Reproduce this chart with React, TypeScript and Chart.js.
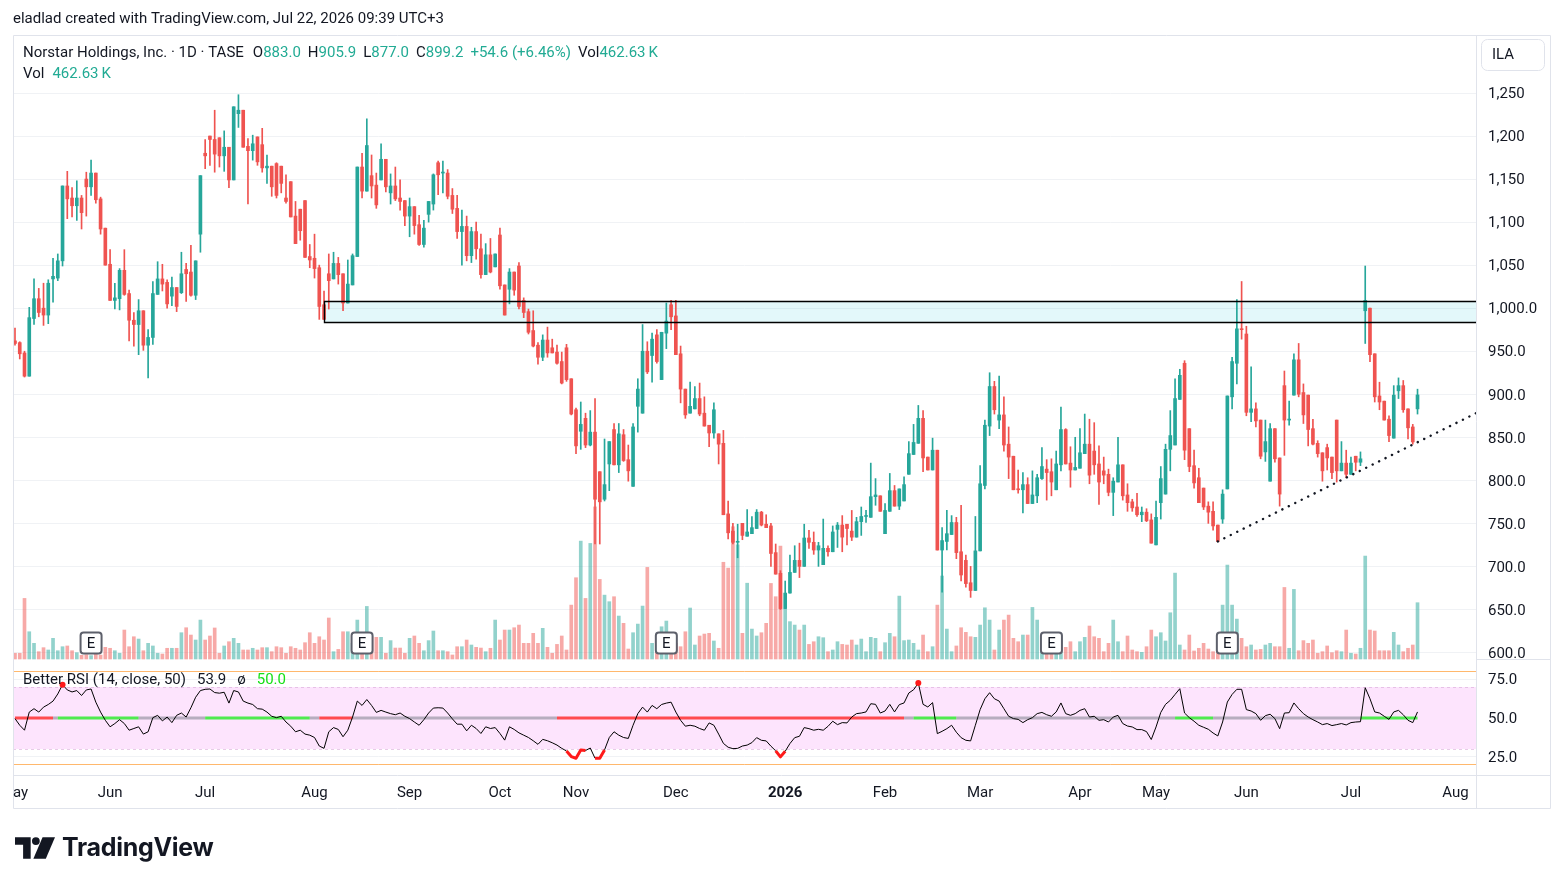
import React, { useEffect, useRef } from 'react';
import { Chart, registerables } from 'chart.js';

Chart.register(...registerables);

const FONT = 'Roboto, "Noto Sans", "DejaVu Sans", sans-serif';
const FS = 15;

// ---------- candle data (daily, TASE) ----------
const opens = [
  962,960,948,921,988,1011,1000,992,1034,1035,
  1055,1142,1128,1119,1128,1150,1141,1157,1127,1093,
  1051,1009,1011,1044,1017,986,981,997,957,966,
  1016,1034,1030,1014,1024,1018,1045,1042,1015,1086,
  1180,1200,1196,1198,1177,1187,1149,1226,1230,1188,
  1183,1199,1190,1163,1165,1168,1165,1128,1147,1107,
  1115,1125,1060,1058,1047,1004,1040,1034,1052,1040,
  1006,1027,1060,1164,1136,1154,1143,1149,1173,1134,
  1142,1128,1125,1107,1118,1097,1074,1109,1121,1169,
  1157,1157,1131,1116,1089,1095,1061,1089,1069,1039,
  1062,1048,1085,1027,1022,1042,1049,1009,996,974,
  957,943,963,954,949,938,954,918,882,857,
  872,841,856,810,778,819,859,818,853,824,
  793,886,878,950,945,969,917,971,1004,991,
  947,906,878,883,895,878,864,855,854,843,
  761,741,728,750,735,738,744,763,749,747,
  716,692,651,669,693,707,700,733,728,719,
  702,721,717,743,748,749,741,734,752,758,
  757,781,782,738,764,788,770,776,807,830,
  843,872,827,812,835,719,729,737,751,717,
  707,681,672,718,794,863,909,870,876,842,
  828,790,789,795,773,782,802,813,810,789,
  818,859,820,812,814,831,842,834,819,811,
  807,786,798,818,783,775,769,760,763,754,
  725,774,784,836,841,894,936,860,817,803,
  791,770,764,748,755,790,897,936,976,970,
  879,883,870,833,799,860,826,910,870,899,
  940,902,899,860,843,832,838,827,870,811,
  820,807,828,821,997,1000,947,898,892,871,
  849,904,910,883,862,883.0,
];
const highs = [
  977,961,950,1001,1034,1023,1029,1033,1058,1063,
  1142,1159,1140,1148,1131,1158,1172,1157,1129,1093,
  1068,1029,1046,1068,1021,995,1010,997,975,1031,
  1054,1051,1033,1036,1024,1065,1052,1073,1055,1154,
  1196,1200,1230,1198,1206,1187,1234,1248,1230,1197,
  1201,1199,1209,1178,1165,1169,1165,1155,1147,1124,
  1115,1125,1074,1086,1050,1020,1063,1065,1059,1040,
  1056,1063,1164,1180,1220,1178,1157,1191,1173,1156,
  1164,1149,1125,1128,1118,1108,1102,1124,1156,1171,
  1171,1161,1139,1131,1114,1107,1094,1100,1086,1075,
  1081,1063,1093,1027,1046,1042,1053,1012,999,997,
  960,969,978,964,957,949,958,918,884,891,
  878,881,895,810,848,845,866,866,859,841,
  866,918,981,961,971,975,972,1006,1009,1009,
  956,906,914,909,913,897,864,890,854,858,
  776,750,749,750,766,758,766,764,760,750,
  726,695,683,713,724,727,749,742,740,728,
  755,724,747,751,759,749,765,757,769,765,
  820,802,782,773,808,794,790,804,845,865,
  887,881,827,849,835,745,765,759,757,771,
  713,700,758,817,870,925,915,921,897,862,
  828,812,809,803,811,807,838,824,825,834,
  885,860,839,850,860,877,871,867,840,827,
  813,803,850,818,796,778,785,769,767,761,
  776,816,842,881,918,929,939,860,835,814,
  791,775,775,748,789,898,943,1010,1031,979,
  932,890,870,870,866,860,826,927,892,947,
  959,912,899,871,846,832,842,827,870,845,
  835,827,828,833,1049,1000,947,914,892,875,
  910,919,916,883,865,905.9,
];
const lows = [
  957,941,920,921,981,990,980,982,1007,1032,
  1049,1104,1106,1102,1092,1107,1131,1122,1086,1050,
  1009,999,998,1015,962,956,946,951,919,958,
  1016,1020,1000,1003,996,1017,1008,1014,1010,1065,
  1162,1166,1158,1164,1159,1140,1149,1210,1187,1121,
  1172,1166,1158,1145,1130,1128,1134,1122,1106,1075,
  1079,1059,1047,1035,987,987,999,1034,1028,997,
  1006,1027,1060,1128,1136,1128,1116,1149,1135,1121,
  1125,1114,1096,1083,1086,1073,1071,1100,1114,1132,
  1134,1127,1110,1081,1050,1055,1053,1057,1035,1039,
  1041,1048,1022,992,1005,1015,999,989,970,955,
  935,939,943,948,935,912,915,876,831,836,
  838,840,726,726,776,788,818,809,822,799,
  793,856,878,924,914,936,917,953,975,946,
  890,872,878,883,875,863,839,849,819,760,
  732,726,710,731,735,738,744,747,745,700,
  691,650,651,669,693,687,700,721,714,700,
  702,712,717,722,717,725,730,734,736,751,
  757,771,764,738,764,770,766,776,807,830,
  843,810,812,812,719,670,719,737,709,683,
  676,664,672,718,790,852,877,860,834,802,
  789,785,762,773,773,774,801,777,782,789,
  811,819,792,812,814,831,796,807,772,796,
  782,759,798,777,764,764,758,752,752,727,
  725,755,784,811,841,894,824,810,791,774,
  766,750,742,729,750,790,883,912,964,875,
  868,862,825,822,799,821,770,829,864,899,
  897,866,840,841,827,799,812,802,798,811,
  803,807,811,817,959,938,891,882,870,845,
  849,895,879,848,842,877.0,
];
const closes = [
  959,947,921,989,1011,995,992,1029,1037,1055,
  1142,1127,1119,1128,1111,1141,1157,1126,1092,1050,
  1009,1012,1044,1016,986,981,997,957,966,1017,
  1034,1028,1005,1024,1002,1040,1040,1015,1055,1154,
  1177,1196,1179,1177,1187,1149,1234,1230,1187,1183,
  1191,1170,1163,1165,1141,1131,1145,1124,1106,1075,
  1090,1059,1056,1046,1002,987,1032,1052,1039,1006,
  1028,1061,1164,1136,1189,1142,1120,1173,1141,1142,
  1127,1124,1107,1118,1096,1074,1093,1124,1155,1155,
  1157,1130,1115,1089,1095,1061,1089,1069,1039,1062,
  1042,1063,1026,992,1042,1021,1002,995,972,956,
  943,963,948,948,936,913,917,877,840,865,
  841,856,778,775,795,845,818,854,823,811,
  862,906,950,926,964,938,972,985,990,946,
  906,876,886,895,877,863,855,882,842,760,
  739,728,729,736,740,745,763,748,745,715,
  691,651,669,693,707,700,733,728,719,724,
  721,717,740,748,734,744,734,752,758,759,
  781,783,764,765,788,770,790,795,831,844,
  872,826,812,835,719,730,738,751,716,690,
  680,672,718,796,864,909,882,876,841,827,
  789,789,795,773,783,803,816,809,798,819,
  859,819,812,815,832,842,806,818,798,806,
  786,799,818,782,774,768,760,763,753,727,
  757,802,836,852,895,922,835,816,797,774,
  769,763,747,729,784,898,938,976,975,879,
  883,869,828,845,860,825,784,870,871,940,
  900,876,859,842,831,811,826,809,811,820,
  807,820,821,825,1009,946,897,891,870,852,
  899,910,882,861,844.6,899.2,
];
// volume in thousands
const volumesK = [
  47,47,498,224,129,60,93,74,170,68,101,107,68,52,
  30,35,28,40,32,
  96,88,68,47,238,101,183,164,68,129,107,47,41,88,88,88,216,257,197,156,320,
  156,189,255,47,107,142,170,129,74,74,88,74,93,93,60,101,93,47,101,88,74,134,216,
  129,183,156,337,60,79,224,224,129,320,156,432,
  183,178,178,47,151,90,90,47,170,189,129,68,151,230,68,68,60,33,101,101,156,115,96,90,60,
  88,320,156,238,238,257,279,129,129,211,129,252,96,47,120,189,74,443,668,969,498,950,1250,654,525,
  471,512,353,293,82,216,287,435,753,129,197,265,312,156,129,101,224,419,115,189,205,211,148,88,
  795,747,1087,938,211,623,
  246,189,216,293,621,512,928,411,307,279,
  238,279,120,142,183,175,60,74,142,120,
  115,156,115,164,60,178,170,60,134,211,
  183,517,151,156,129,74,197,60,101,443,
  682,246,60,107,257,219,183,178,279,421,
  320,74,238,320,361,170,142,197,197,424,
  320,156,60,47,41,60,96,142,60,142,
  178,271,183,170,60,129,320,142,60,189,
  74,60,55,101,238,183,216,148,380,706,
  115,74,197,66,88,129,82,60,74,443,
  772,443,328,170,101,115,74,79,115,129,
  101,101,588,88,572,68,151,129,156,47,
  60,107,52,68,60,238,47,41,88,846,
  238,230,68,68,68,219,115,60,88,115,462.63,
];
// Better RSI (14, close)
const rsiValues = [
  49.6,45.3,42.1,53.8,56,53.8,57,58.7,60.9,65.5,
  71.5,68.1,66.8,67.7,64.5,68.1,68.7,60.2,53.8,48.5,
  44.3,46.4,48.9,46.4,42.1,43.2,44.3,39.6,41.1,50.2,
  51.7,48.1,50.6,47,51.7,53.2,50.6,56.6,63.4,67.7,
  68.5,68.7,66.4,66,66.6,59.6,67.7,66.8,60.9,59.6,
  58.7,56,55.7,53.8,51.1,50.2,51.1,47.4,44.7,41.1,
  42.1,39.6,38.9,37.4,31.9,30.4,41.1,43.8,42.6,37.9,
  42.1,50.6,60.9,58.1,61.9,58.1,53.6,54.9,53.8,52.8,
  52.1,53.2,51.1,49.6,47.4,45.3,48.9,53.2,56.4,56.6,
  56.4,53.2,49.4,46,46,41.7,45.3,43.2,40,44.3,
  43.2,43.8,40,35.7,44.3,42.6,40.4,38.9,37.4,35.3,
  33,36.2,35.3,34,32.5,30.4,28.7,25.1,24,29.4,
  29.0,30.6,24,24,29.4,37.4,41.1,38.9,37.4,36.8,
  45.3,52.8,57,53.8,58.1,56,58.7,59.6,60.2,53.8,
  48.5,44.7,45.3,44.7,43.2,42.1,46.8,45.3,39.6,33.6,
  31.1,30.2,30.4,31.9,32.5,
  34.1,37.3,35.6,35.2,31.8,28.8,24.9,28.5,33.5,37.3,
  38.2,43.8,43.1,42.1,42.7,42.1,44.6,47.9,45.7,47,
  46.8,50.6,52.8,53.2,53.9,59.2,58.8,53.2,54.5,58.8,
  53.9,58.6,59.7,66.1,68.2,72.5,58.8,57.1,59.9,39.9,
  41.4,43.1,45.3,40.8,37.3,35.6,35.2,45.3,55.4,62.4,
  66.3,62.4,60.9,56,51.1,49.6,49.1,47,48.9,50.2,
  52.8,53.6,52.1,51.1,53.9,59.7,52.8,51.7,52.8,54.9,
  56,50.6,51.1,48.5,48.9,47.4,50.6,51.7,46.4,44.8,
  44.2,42.5,42.5,41.2,36.1,44.2,53.6,58.8,61.4,65.2,
  68.9,53.2,50.2,47.9,45.3,44,42.7,40.3,38.4,47.4,
  60.3,65.2,68.5,68.5,55.4,54.5,52.8,48.5,51.5,52.4,
  49.6,43.1,53.2,53.4,59.7,56,52.8,50.6,48.9,47.4,
  45.7,46.4,45.1,45.7,46.4,45.5,47,47.4,47.6,69.5,
  62.4,53.9,53.2,51.1,49.1,53.9,54.9,52.1,48.5,47,
  53.9,
];
// midline trend state of the Better RSI (bar index where each state starts)
const midStateStart = [0, 8, 9, 26, 40, 62, 64, 71, 114, 187, 189, 198, 244, 252, 283];
const midStateKind = ['bear', 'neutral', 'bull', 'neutral', 'bull', 'neutral', 'bear', 'neutral', 'bear', 'neutral', 'bull', 'neutral', 'bull', 'neutral', 'bull'];

// time axis (bar index of first session of each month)
const monthTickIdx = [-0.2, 20, 40, 63, 83, 102, 118, 139, 162, 183, 203, 224, 240, 259, 281, 303];
const monthTickLabels = ['May', 'Jun', 'Jul', 'Aug', 'Sep', 'Oct', 'Nov', 'Dec', '2026', 'Feb', 'Mar', 'Apr', 'May', 'Jun', 'Jul', 'Aug'];

const priceTickValues = [1250, 1200, 1150, 1100, 1050, 1000, 950, 900, 850, 800, 750, 700, 650, 600];
const priceTickLabels = ['1,250', '1,200', '1,150', '1,100', '1,050', '1,000.0', '950.0', '900.0', '850.0', '800.0', '750.0', '700.0', '650.0', '600.0'];
const rsiTickValues = [75, 50, 25];
const rsiTickLabels = ['75.0', '50.0', '25.0'];

const earningsIdx = [16, 73, 137, 218, 255];

// drawings
const zoneStartIdx = 65;
const zoneTop = 1008;
const zoneBottom = 983.5;
const trendIdx = [253, 307.3];
const trendPrice = [729, 878];

const rsiMid = 50;
const rsiUpper = 70;
const rsiLower = 30;
const rsiOB = 80;
const rsiOS = 20;

// axis ranges
const X_MIN = -0.42, X_MAX = 307.3;
const P_MIN = 592.4, P_MAX = 1317.4;
const R_MIN = 13.2, R_MAX = 88.06;
const V_MIN = -953.5, V_MAX = 5129;

const DARK = '#131722';
const TEAL = '#22ab94';
const UP = '#26a69a';
const DOWN = '#ef5350';
const GRID = '#f0f2f5';
const FRAME = '#e0e3eb';

function midStateAt(i: number): string {
  let s = midStateKind[0];
  for (let k = 0; k < midStateStart.length; k++) {
    if (i >= midStateStart[k]) s = midStateKind[k];
  }
  return s;
}
const MID_COLORS: Record<string, string> = {
  bear: 'rgba(255, 48, 48, 0.85)',
  bull: 'rgba(48, 235, 48, 0.85)',
  neutral: 'rgba(125, 128, 140, 0.55)',
};

function drawPieces(ctx: CanvasRenderingContext2D, x: number, y: number, pieces: [string, string, number][]) {
  let cx = x;
  for (const [t, c, gap] of pieces) {
    ctx.fillStyle = c;
    ctx.fillText(t, cx, y);
    cx += ctx.measureText(t).width + gap;
  }
}

const TY = 1.5; // text vertical nudge

const overlayPlugin = {
  id: 'tvOverlay',
  beforeDatasetsDraw(chart: any) {
    const { ctx, chartArea: ca, scales } = chart;
    const rs = scales.rsi, ps = scales.y, xs = scales.x;
    ctx.save();
    // RSI band
    const bt = rs.getPixelForValue(rsiUpper), bb = rs.getPixelForValue(rsiLower);
    ctx.fillStyle = '#fde4fd';
    ctx.fillRect(ca.left, bt, ca.right - ca.left, bb - bt);
    ctx.strokeStyle = 'rgba(215, 170, 215, 0.6)';
    ctx.lineWidth = 1;
    ctx.setLineDash([3, 3]);
    for (const y of [bt, bb]) {
      ctx.beginPath(); ctx.moveTo(ca.left, Math.round(y) + 0.5); ctx.lineTo(ca.right, Math.round(y) + 0.5); ctx.stroke();
    }
    ctx.setLineDash([]);
    ctx.strokeStyle = 'rgba(255, 160, 60, 0.75)';
    for (const v of [rsiOB, rsiOS]) {
      const y = Math.round(rs.getPixelForValue(v)) + 0.5;
      ctx.beginPath(); ctx.moveTo(ca.left, y); ctx.lineTo(ca.right, y); ctx.stroke();
    }
    // resistance zone fill
    const zx = xs.getPixelForValue(zoneStartIdx);
    const zt = ps.getPixelForValue(zoneTop), zb = ps.getPixelForValue(zoneBottom);
    ctx.fillStyle = 'rgba(0, 188, 212, 0.11)';
    ctx.fillRect(zx, zt, ca.right - zx, zb - zt);
    ctx.restore();
  },
  afterDatasetsDraw(chart: any) {
    const { ctx, chartArea: ca, scales } = chart;
    const ps = scales.y, xs = scales.x;
    ctx.save();
    // zone border
    const zx = Math.round(xs.getPixelForValue(zoneStartIdx)) + 0.5;
    const zt = Math.round(ps.getPixelForValue(zoneTop)) + 0.5, zb = Math.round(ps.getPixelForValue(zoneBottom)) + 0.5;
    ctx.strokeStyle = '#000';
    ctx.lineWidth = 1.4;
    ctx.beginPath();
    ctx.moveTo(ca.right, zt); ctx.lineTo(zx, zt); ctx.lineTo(zx, zb); ctx.lineTo(ca.right, zb);
    ctx.stroke();
    // earnings markers
    ctx.font = `${FS}px ${FONT}`;
    ctx.textAlign = 'center';
    ctx.textBaseline = 'middle';
    for (const e of earningsIdx) {
      const cx = xs.getPixelForValue(e);
      ctx.beginPath();
      ctx.roundRect(cx - 10.5, 632.5, 21, 21, 3);
      ctx.fillStyle = '#fff';
      ctx.fill();
      ctx.lineWidth = 2;
      ctx.strokeStyle = '#5d606b';
      ctx.stroke();
      ctx.fillStyle = DARK;
      ctx.fillText('E', cx, 643 + TY);
    }
    ctx.restore();
  },
  afterDraw(chart: any) {
    const { ctx, chartArea: ca, scales } = chart;
    const xs = scales.x;
    ctx.save();
    // frame
    ctx.strokeStyle = FRAME;
    ctx.lineWidth = 1;
    ctx.beginPath();
    ctx.rect(13.5, 35.5, 1537, 773);
    ctx.moveTo(ca.right + 0.5, 35); ctx.lineTo(ca.right + 0.5, 808);
    ctx.moveTo(13, ca.bottom + 0.5); ctx.lineTo(1550, ca.bottom + 0.5);
    const sep = Math.round(scales.y.bottom) + 0.5;
    ctx.moveTo(ca.right, sep); ctx.lineTo(1550, sep);
    ctx.stroke();

    // currency box
    ctx.beginPath(); ctx.roundRect(1481.5, 39.5, 63, 31, 6); ctx.stroke();
    ctx.font = `${FS}px ${FONT}`;
    ctx.textAlign = 'left';
    ctx.textBaseline = 'middle';
    ctx.fillStyle = DARK;
    ctx.fillText('ILA', 1492, 54 + TY);

    // header
    ctx.fillText('eladlad created with TradingView.com, Jul 22, 2026 09:39 UTC+3', 13, 18 + TY);

    // legend
    const n = closes.length;
    const chg = closes[n - 1] - closes[n - 2];
    const pct = (chg / closes[n - 2]) * 100;
    const volTxt = `${volumesK[n - 1].toFixed(2)}\u2009K`;
    drawPieces(ctx, 23, 52 + TY, [
      ['Norstar Holdings, Inc. · 1D · TASE', DARK, 9],
      ['O', DARK, 0], [opens[n - 1].toFixed(1), TEAL, 7],
      ['H', DARK, 0], [highs[n - 1].toFixed(1), TEAL, 7],
      ['L', DARK, 0], [lows[n - 1].toFixed(1), TEAL, 7],
      ['C', DARK, 0], [closes[n - 1].toFixed(1), TEAL, 7],
      [`${chg >= 0 ? '+' : ''}${chg.toFixed(1)} (${chg >= 0 ? '+' : ''}${pct.toFixed(2)}%)`, TEAL, 7],
      ['Vol', DARK, 0], [volTxt, TEAL, 0],
    ]);
    drawPieces(ctx, 23, 73 + TY, [['Vol', DARK, 8], [volTxt, TEAL, 0]]);
    drawPieces(ctx, 23, 679 + TY, [
      ['Better RSI (14, close, 50)', DARK, 11],
      [rsiValues[rsiValues.length - 1].toFixed(1), DARK, 11],
      ['ø', DARK, 11],
      [rsiMid.toFixed(1), '#16e016', 0],
    ]);

    // time axis labels
    ctx.beginPath();
    ctx.rect(ca.left, ca.bottom, ca.right - ca.left, 33);
    ctx.clip();
    ctx.textAlign = 'center';
    monthTickIdx.forEach((v, i) => {
      const label = monthTickLabels[i];
      ctx.font = /^\d{4}$/.test(label) ? `bold ${FS}px ${FONT}` : `${FS}px ${FONT}`;
      ctx.fillStyle = DARK;
      ctx.fillText(label, xs.getPixelForValue(v), 792 + TY);
    });
    ctx.restore();
  },
};

export default function App() {
  const ref = useRef<HTMLCanvasElement | null>(null);

  useEffect(() => {
    if (!ref.current) return;
    Chart.defaults.font.family = FONT;
    const isUp = closes.map((c, i) => c >= opens[i]);
    const candleColors = isUp.map((u) => (u ? UP : DOWN));
    const volColors = isUp.map((u) => (u ? 'rgba(38,166,154,0.5)' : 'rgba(239,83,80,0.5)'));

    const chart = new Chart(ref.current, {
      type: 'bar',
      data: {
        datasets: [
          {
            type: 'line',
            label: 'Trend',
            data: trendIdx.map((x, i) => ({ x, y: trendPrice[i] })),
            borderColor: DARK,
            borderWidth: 2.4,
            borderDash: [0.1, 7.1],
            borderCapStyle: 'round',
            pointRadius: 0,
            yAxisID: 'y',
            order: 0,
          } as any,
          {
            type: 'bar',
            label: 'Body',
            data: opens.map((o, i) => ({ x: i, y: [o, closes[i]] })),
            backgroundColor: candleColors,
            barThickness: 3,
            minBarLength: 1,
            grouped: false,
            yAxisID: 'y',
            order: 1,
          } as any,
          {
            type: 'bar',
            label: 'Wick',
            data: lows.map((l, i) => ({ x: i, y: [l, highs[i]] })),
            backgroundColor: candleColors,
            barThickness: 1,
            grouped: false,
            yAxisID: 'y',
            order: 2,
          } as any,
          {
            type: 'line',
            label: 'RSI',
            data: rsiValues.map((v, i) => ({ x: i, y: v })),
            borderColor: '#000',
            borderWidth: 1,
            borderJoinStyle: 'round',
            tension: 0,
            pointRadius: (c: any) => (rsiValues[c.dataIndex] > rsiUpper ? 3 : 0),
            pointBackgroundColor: '#ff1a1a',
            pointBorderWidth: 0,
            segment: {
              borderColor: (c: any) => (c.p0.parsed.y < rsiLower && c.p1.parsed.y < rsiLower ? '#ff1a1a' : '#000'),
              borderWidth: (c: any) => (c.p0.parsed.y < rsiLower && c.p1.parsed.y < rsiLower ? 3 : 1),
            },
            yAxisID: 'rsi',
            order: 3,
          } as any,
          {
            type: 'line',
            label: 'RSI midline',
            data: rsiValues.map((_, i) => ({ x: i, y: rsiMid })),
            borderWidth: 3,
            borderColor: MID_COLORS.neutral,
            segment: {
              borderColor: (c: any) => MID_COLORS[midStateAt(c.p0DataIndex)],
            },
            pointRadius: 0,
            yAxisID: 'rsi',
            order: 4,
          } as any,
          {
            type: 'bar',
            label: 'Volume',
            data: volumesK.map((v, i) => ({ x: i, y: v })),
            backgroundColor: volColors,
            barThickness: 3,
            grouped: false,
            yAxisID: 'vol',
            order: 5,
          } as any,
        ],
      },
      options: {
        responsive: false,
        animation: false,
        events: [],
        layout: { padding: { left: 13, right: 14, top: 35, bottom: 77 } },
        plugins: { legend: { display: false }, tooltip: { enabled: false } },
        scales: {
          x: {
            type: 'linear',
            min: X_MIN,
            max: X_MAX,
            offset: false,
            grid: { display: false },
            border: { display: false },
            ticks: { display: false },
            afterFit: (s: any) => { s.height = 33; },
          },
          y: {
            type: 'linear',
            position: 'right',
            stack: 'panes',
            stackWeight: 624,
            min: P_MIN,
            max: P_MAX,
            grid: { color: GRID, drawTicks: false },
            border: { display: false },
            ticks: {
              color: DARK,
              font: { family: FONT, size: FS },
              padding: 12,
              labelOffset: 1.5,
              autoSkip: false,
              callback: (_v: any, i: number) => priceTickLabels[i],
            },
            afterBuildTicks: (s: any) => { s.ticks = priceTickValues.map((v) => ({ value: v })); },
            afterFit: (s: any) => { s.width = 74; },
          },
          rsi: {
            type: 'linear',
            position: 'right',
            stack: 'panes',
            stackWeight: 116,
            min: R_MIN,
            max: R_MAX,
            grid: { color: GRID, drawTicks: false },
            border: { display: false },
            ticks: {
              color: DARK,
              font: { family: FONT, size: FS },
              padding: 12,
              labelOffset: 1.5,
              autoSkip: false,
              callback: (_v: any, i: number) => rsiTickLabels[i],
            },
            afterBuildTicks: (s: any) => { s.ticks = rsiTickValues.map((v) => ({ value: v })); },
            afterFit: (s: any) => { s.width = 74; },
          },
          vol: {
            type: 'linear',
            position: 'right',
            display: false,
            min: V_MIN,
            max: V_MAX,
          },
        },
      } as any,
      plugins: [overlayPlugin as any],
    });
    return () => chart.destroy();
  }, []);

  return (
    <div style={{ position: 'absolute', left: 0, top: 0, width: 1564, height: 885, background: '#fff', overflow: 'hidden' }}>
      <canvas ref={ref} width={1564} height={885} style={{ position: 'absolute', left: 0, top: 0 }} />
      <svg width={40} height={22} viewBox="0 0 37 20" style={{ position: 'absolute', left: 15, top: 837 }}>
        <path d="M0 0 H14.5 V20 H7.5 V7 H0 Z" fill="#131722" />
        <circle cx={19.3} cy={3.6} r={3.6} fill="#131722" />
        <path d="M25.5 0 H37 L28.5 20 H17 Z" fill="#131722" />
      </svg>
      <div
        style={{
          position: 'absolute',
          left: 62,
          top: 832,
          fontFamily: 'Inter, Roboto, sans-serif',
          fontWeight: 700,
          fontSize: 25,
          letterSpacing: -0.3,
          color: '#131722',
          lineHeight: '30px',
        }}
      >
        TradingView
      </div>
    </div>
  );
}
